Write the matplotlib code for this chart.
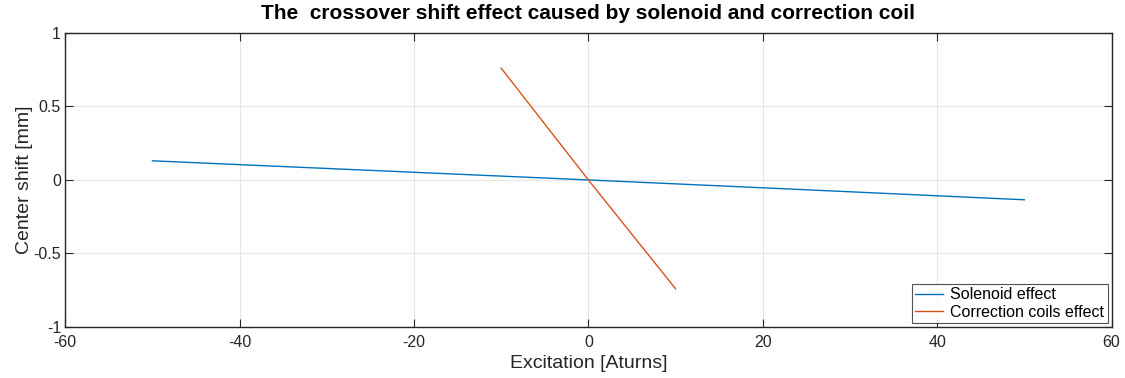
import matplotlib.pyplot as plt

plt.rcParams['font.family'] = ['Liberation Sans', 'DejaVu Sans']
plt.rcParams['axes.unicode_minus'] = False

# excitation in ampere-turns, centre shift in mm
sol_x = [-50, -25, 0, 25, 50]
sol_y = [0.13, 0.065, 0.0, -0.067, -0.135]
coil_x = [-10, -5, 0, 5, 10]
coil_y = [0.76, 0.38, 0.0, -0.37, -0.74]

xticks = [-60, -40, -20, 0, 20, 40, 60]
yticks = [-1, -0.5, 0, 0.5, 1]
yticklabels = ['-1', '-0.5', '0', '0.5', '1']

fig = plt.figure(figsize=(11.25, 3.78), dpi=100)
ax = fig.add_axes([0.058, 0.135, 0.930, 0.778])

ax.plot(sol_x, sol_y, color='#0072BD', lw=1.0, label='Solenoid effect')
ax.plot(coil_x, coil_y, color='#D95319', lw=1.0, label='Correction coils effect')

ax.set_xlim(-60, 60)
ax.set_ylim(-1, 1)
ax.set_xticks(xticks)
ax.set_yticks(yticks)
ax.set_yticklabels(yticklabels)
ax.grid(True, color='#e6e6e6', lw=0.8)
ax.set_axisbelow(True)
ax.tick_params(direction='in', length=6, labelsize=11.5, colors='#262626',
               top=True, right=True)
ax.tick_params(axis='x', pad=5.5)
ax.tick_params(axis='y', pad=3)
for s in ax.spines.values():
    s.set_color('#262626')
    s.set_linewidth(1.0)

ax.set_xlabel('Excitation [Aturns]', fontsize=14, color='#262626', labelpad=4)
ax.set_ylabel('Center shift [mm]', fontsize=14, color='#262626', labelpad=0)
ax.set_title('The  crossover shift effect caused by solenoid and correction coil',
             fontsize=15, fontweight='bold', pad=10)

leg = ax.legend(loc='lower right', fontsize=11.5, frameon=True, fancybox=False,
                borderaxespad=0.25, handlelength=1.75, handletextpad=0.45,
                borderpad=0.2, labelspacing=0.15)
leg.get_frame().set_edgecolor('#262626')
leg.get_frame().set_linewidth(0.8)

fig.savefig('out.png', dpi=100)
